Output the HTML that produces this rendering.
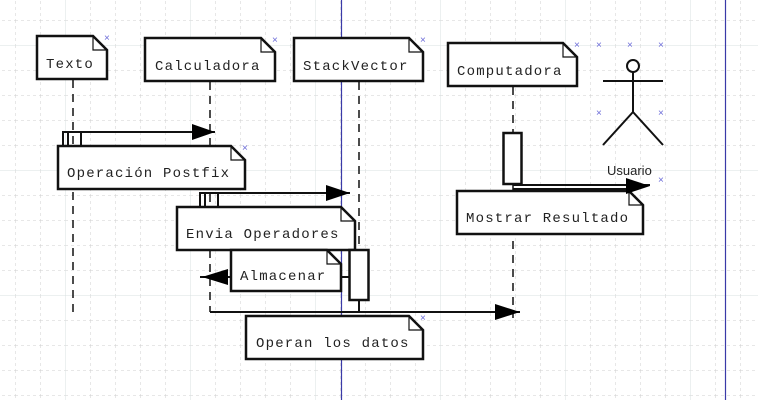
<!DOCTYPE html>
<html><head><meta charset="utf-8"><style>
html,body{margin:0;padding:0;background:#fff;}
svg{display:block;}
text{font-family:"Liberation Mono",monospace;font-size:14px;letter-spacing:1.2px;fill:#222;}
</style></head><body>
<svg width="758" height="400" xmlns="http://www.w3.org/2000/svg">
<defs>
<pattern id="g" x="15" y="20" width="25" height="25" patternUnits="userSpaceOnUse">
<path d="M0 0V25M0 0H25" stroke="#cfcfcf" stroke-width="1" stroke-dasharray="3,3" fill="none"/>
</pattern>
<pattern id="G" x="65" y="45" width="125" height="125" patternUnits="userSpaceOnUse">
<path d="M0 0V125M0 0H125" stroke="#d8e0e0" stroke-width="1" fill="none"/>
</pattern>
</defs>
<rect width="758" height="400" fill="url(#g)"/>
<rect width="758" height="400" fill="url(#G)"/>
<line x1="341.5" y1="0" x2="341.5" y2="400" stroke="#3a3aa8" stroke-width="1.2"/>
<line x1="725.5" y1="0" x2="725.5" y2="400" stroke="#3a3aa8" stroke-width="1.2"/>

<g stroke="#111" stroke-width="1.5" stroke-dasharray="8,6" fill="none">
<line x1="73" y1="80" x2="73" y2="314"/>
<line x1="210" y1="82" x2="210" y2="312"/>
<line x1="359" y1="82" x2="359" y2="250"/>
<line x1="513" y1="87" x2="513" y2="318"/>
</g>

<g fill="#fff" stroke="#111" stroke-width="2.5">
<path d="M37 36H93L107 50V79H37Z"/>
<path d="M145 38H261L275 52V81H145Z"/>
<path d="M294 38H409L423 52V81H294Z"/>
<path d="M448 43H563L577 57V86H448Z"/>
<path d="M58 146H231L245 160V189H58Z"/>
<path d="M177 207H341L355 221V250H177Z"/>
<path d="M231 250H327L341 264V291H231Z"/>
<path d="M246 316H409L423 330V359H246Z"/>
<path d="M457 191H629L643 205V234H457Z"/>
</g>
<g fill="none" stroke="#111" stroke-width="1.2">
<path d="M93 36V50H107"/><path d="M261 38V52H275"/><path d="M409 38V52H423"/>
<path d="M563 43V57H577"/><path d="M231 146V160H245"/><path d="M341 207V221H355"/>
<path d="M327 250V264H341"/><path d="M409 316V330H423"/><path d="M629 191V205H643"/>
</g>
<text x="46" y="68">Texto</text>
<text x="155" y="70">Calculadora</text>
<text x="303" y="70">StackVector</text>
<text x="457" y="75">Computadora</text>
<text x="67" y="177">Operación Postfix</text>
<text x="186" y="238">Envia Operadores</text>
<text x="240" y="280">Almacenar</text>
<text x="256" y="347">Operan los datos</text>
<text x="466" y="222">Mostrar Resultado</text>

<g stroke="#111" stroke-width="2" fill="none">
<path d="M63 146V132H215M68 146V132M81 146V132"/>
<path d="M200 207V193H350M205 207V193M218 207V193"/>
<path d="M210 312H520M359 300V312"/>
<path d="M200 277H231M341 277H358"/>
<path d="M513 185H650M513 189H630"/>
</g>
<rect x="349.5" y="250" width="19" height="50" fill="#fff" stroke="#111" stroke-width="2.5"/>
<rect x="503.5" y="133" width="18" height="51" fill="#fff" stroke="#111" stroke-width="2.5"/>
<g fill="#000">
<path d="M192 124L215 132L192 140Z"/>
<path d="M326 185L350 193L326 201Z"/>
<path d="M495 304L520 312L495 320Z"/>
<path d="M228 269L202 277L228 285Z"/>
<path d="M626 178L650 186L626 194Z"/>
</g>

<g stroke="#111" stroke-width="2" fill="none">
<circle cx="633" cy="66" r="6" fill="#fff"/>
<path d="M633 72V112M603 81H663M633 112L603 145M633 112L663 145"/>
</g>
<text x="607" y="175" style="font-family:'Liberation Sans',sans-serif;font-size:13px;letter-spacing:0">Usuario</text>

<g style="fill:#6a6ad8;font-size:10px;font-family:'Liberation Sans',sans-serif;letter-spacing:0">
<text x="104" y="41" style="fill:#6a6ad8;font-size:10px;font-family:'Liberation Sans',sans-serif;letter-spacing:0">×</text>
<text x="272" y="43" style="fill:#6a6ad8;font-size:10px;font-family:'Liberation Sans',sans-serif;letter-spacing:0">×</text>
<text x="420" y="43" style="fill:#6a6ad8;font-size:10px;font-family:'Liberation Sans',sans-serif;letter-spacing:0">×</text>
<text x="574" y="48" style="fill:#6a6ad8;font-size:10px;font-family:'Liberation Sans',sans-serif;letter-spacing:0">×</text>
<text x="596" y="48" style="fill:#6a6ad8;font-size:10px;font-family:'Liberation Sans',sans-serif;letter-spacing:0">×</text>
<text x="627" y="48" style="fill:#6a6ad8;font-size:10px;font-family:'Liberation Sans',sans-serif;letter-spacing:0">×</text>
<text x="658" y="48" style="fill:#6a6ad8;font-size:10px;font-family:'Liberation Sans',sans-serif;letter-spacing:0">×</text>
<text x="596" y="116" style="fill:#6a6ad8;font-size:10px;font-family:'Liberation Sans',sans-serif;letter-spacing:0">×</text>
<text x="658" y="116" style="fill:#6a6ad8;font-size:10px;font-family:'Liberation Sans',sans-serif;letter-spacing:0">×</text>
<text x="658" y="183" style="fill:#6a6ad8;font-size:10px;font-family:'Liberation Sans',sans-serif;letter-spacing:0">×</text>
<text x="242" y="151" style="fill:#6a6ad8;font-size:10px;font-family:'Liberation Sans',sans-serif;letter-spacing:0">×</text>
<text x="420" y="321" style="fill:#6a6ad8;font-size:10px;font-family:'Liberation Sans',sans-serif;letter-spacing:0">×</text>
</g>
</svg>
</body></html>
